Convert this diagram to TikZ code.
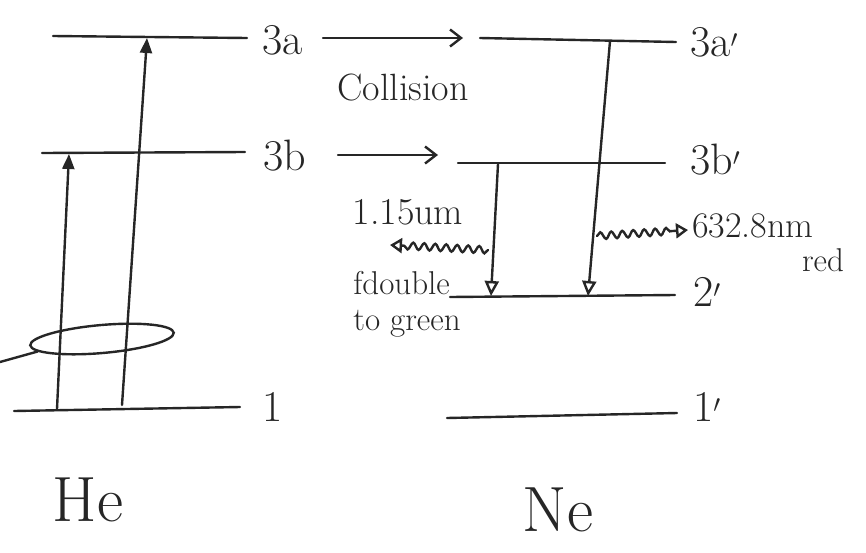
\documentclass[tikz,border=0pt]{standalone}
\usetikzlibrary{arrows.meta,decorations.pathmorphing,shapes.geometric}
\begin{document}
\begin{tikzpicture}[x=1pt,y=-1pt,
  pen/.style={line width=2.4pt, line cap=round, draw=black!85},
  lbl/.style={font=\fontsize{44}{44}\selectfont, anchor=west, inner sep=0pt, text=black!85},
  note/.style={font=\fontsize{38}{38}\selectfont, inner sep=0pt, text=black!85},
  small/.style={font=\fontsize{33}{33}\selectfont, inner sep=0pt, text=black!85},
  big/.style={font=\fontsize{64}{64}\selectfont, inner sep=0pt, text=black!85},
  uparr/.style={pen,-{Triangle[length=15pt,width=12pt]}},
  downarr/.style={pen,-{Triangle[open,length=15pt,width=14pt]}},
  coll/.style={pen,-{Straight Barb[length=11pt,width=17pt]}},
  wave/.style={pen,decorate,decoration={snake,amplitude=3.5pt,segment length=11pt,post length=14pt}},
]
\useasboundingbox (0,0) rectangle (866,552);

% ---------- He levels ----------
\coordinate (a3L) at (53,36);  \coordinate (a3R) at (247,38);
\coordinate (b3L) at (42,153); \coordinate (b3R) at (245,152);
\coordinate (g1L) at (14,411); \coordinate (g1R) at (240,407);
\draw[pen] (a3L) -- (a3R);
\draw[pen] (b3L) -- (b3R);
\draw[pen] (g1L) -- (g1R);
\node[lbl] (L3a) at (262,40) {3a};
\node[lbl] (L3b) at (263,156) {3b};
\node[lbl] (L1) at (262,407) {1};

% He pumping arrows
\coordinate (pA0) at (57,409);  \coordinate (pA1) at (69,154);
\coordinate (pB0) at (122,405); \coordinate (pB1) at (147,38);
\draw[uparr] (pA0) -- (pA1);
\draw[uparr] (pB0) -- (pB1);

% ellipse and pointer
\node[pen, draw, ellipse, minimum width=144pt, minimum height=28pt, inner sep=0pt, rotate=5] (ell) at (102,339) {};
\coordinate (e0) at (0,362);
\draw[pen] (e0) -- (ell.186);

\node[big] (He) at (88,500) {He};

% ---------- collisions ----------
\coordinate (c1a) at (323,38);  \coordinate (c1b) at (463,38);
\coordinate (c2a) at (338,155); \coordinate (c2b) at (438,155);
\draw[coll] (c1a) -- (c1b);
\draw[coll] (c2a) -- (c2b);
\node[note] (coll) at (403,88) {Collision};

% ---------- Ne levels ----------
\coordinate (n3aL) at (480,38);  \coordinate (n3aR) at (676,42);
\coordinate (n3bL) at (458,163); \coordinate (n3bR) at (665,163);
\coordinate (n2L) at (450,297);  \coordinate (n2R) at (675,295);
\coordinate (n1L) at (447,418);  \coordinate (n1R) at (677,413);
\draw[pen] (n3aL) -- (n3aR);
\draw[pen] (n3bL) -- (n3bR);
\draw[pen] (n2L) -- (n2R);
\draw[pen] (n1L) -- (n1R);
\node[lbl] (L3ap) at (690,42) {3a$'$};
\node[lbl] (L3bp) at (690,160) {3b$'$};
\node[lbl] (L2p) at (693,292) {2$'$};
\node[lbl] (L1p) at (693,407) {1$'$};

% Ne laser transitions
\coordinate (nA0) at (610,41);  \coordinate (nA1) at (588,296);
\coordinate (nB0) at (498,164); \coordinate (nB1) at (491,296);
\draw[downarr] (nA0) -- (nA1);
\draw[downarr] (nB0) -- (nB1);

% emitted light
\coordinate (w1a) at (597,236); \coordinate (w1b) at (688,230);
\draw[wave,-{Triangle[open,length=12pt,width=15pt]}] (w1a) -- (w1b);
\node[note, anchor=west, font=\fontsize{36}{36}\selectfont] (red1) at (692,226) {632.8nm};
\node[small] (red2) at (823,260) {red};

\coordinate (w2a) at (488,250); \coordinate (w2b) at (390,245);
\draw[wave,-{Triangle[open,length=12pt,width=15pt]}] (w2a) -- (w2b);
\node[note] (ir) at (408,212) {1.15um};
\node[small, anchor=base east] (fd) at (450,294) {fdouble};
\node[small, anchor=base] (tg) at (407,330) {to green};

\node[big] (Ne) at (558,510) {Ne};
\end{tikzpicture}
\end{document}
